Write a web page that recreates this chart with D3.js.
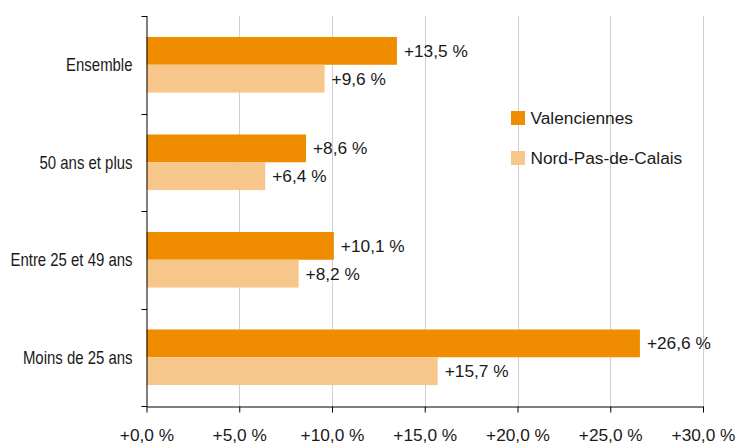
<!DOCTYPE html>
<html>
<head>
<meta charset="utf-8">
<title>Evolution</title>
<style>
  body {margin: 0; background: #fff;}
  text {font-family: "Liberation Sans", Arial, sans-serif; fill: #1a1a1a;}
  .grid line {stroke: #d0d0d0; stroke-width: 1px;}
  .axis path, .axis line {stroke: #000; stroke-width: 1px;}
</style>
</head>
<body>
<script src="https://d3js.org/d3.v7.min.js"></script>
<script>
var categories = ["Ensemble", "50 ans et plus", "Entre 25 et 49 ans", "Moins de 25 ans"];
var seriesNames = ["Valenciennes", "Nord-Pas-de-Calais"];
var valenciennes = [13.5, 8.6, 10.1, 26.6];
var nordPasDeCalais = [9.6, 6.4, 8.2, 15.7];
var xTicks = [0, 5, 10, 15, 20, 25, 30];
var colors = ["#f08c00", "#f6c68a"];

var W = 737, H = 448;
var mLeft = 146.5, mRight = 703, mTop = 16, mBottom = 406;

var svg = d3.select("body").append("svg").attr("width", W).attr("height", H);

var x = d3.scaleLinear().domain([0, 30]).range([mLeft, mRight]);
var y = d3.scaleBand().domain(categories).range([mTop, mBottom]).paddingInner(0.43).paddingOuter(0.215);
var ySub = d3.scaleBand().domain(seriesNames).range([0, y.bandwidth()]);

var fmt = function(v) { return "+" + d3.format(".1f")(v).replace(".", ",") + " %"; };

// grid
svg.append("g").attr("class", "grid")
  .selectAll("line").data(xTicks.slice(1)).enter().append("line")
  .attr("x1", function(d) { return Math.round(x(d)) + 0.5; })
  .attr("x2", function(d) { return Math.round(x(d)) + 0.5; })
  .attr("y1", mTop).attr("y2", mBottom);

// bars
var rows = categories.map(function(c, i) {
  return [{cat: c, s: seriesNames[0], v: valenciennes[i], k: 0},
          {cat: c, s: seriesNames[1], v: nordPasDeCalais[i], k: 1}];
});
var g = svg.selectAll("g.row").data(rows).enter().append("g")
  .attr("class", "row")
  .attr("transform", function(d) { return "translate(0," + y(d[0].cat) + ")"; });

g.selectAll("rect").data(function(d) { return d; }).enter().append("rect")
  .attr("x", x(0))
  .attr("y", function(d) { return ySub(d.s); })
  .attr("width", function(d) { return x(d.v) - x(0); })
  .attr("height", ySub.bandwidth())
  .attr("fill", function(d) { return colors[d.k]; });

g.selectAll("text").data(function(d) { return d; }).enter().append("text")
  .attr("x", function(d) { return x(d.v) + 7; })
  .attr("y", function(d) { return ySub(d.s) + ySub.bandwidth() / 2; })
  .attr("dy", "0.35em")
  .attr("font-size", "17.3px")
  .text(function(d) { return fmt(d.v); });

// x axis
var xAxis = svg.append("g").attr("class", "axis")
  .attr("transform", "translate(0," + (mBottom + 0.5) + ")")
  .call(d3.axisBottom(x).tickValues(xTicks).tickSize(6).tickSizeOuter(0).tickPadding(16).tickFormat(fmt));
xAxis.selectAll("text").attr("font-size", "17.3px").attr("font-family", "Liberation Sans, Arial, sans-serif").attr("fill", "#1a1a1a");

// y axis: ticks at band boundaries
var yAxisG = svg.append("g").attr("class", "axis");
yAxisG.append("line").attr("x1", mLeft + 0.5).attr("x2", mLeft + 0.5).attr("y1", mTop).attr("y2", mBottom + 0.5);
var bounds = categories.map(function(c) { return y(c) - y.step() * y.paddingInner() / 2; }).concat([mBottom]);
bounds[0] = mTop;
yAxisG.selectAll("line.tk").data(bounds).enter().append("line").attr("class", "tk")
  .attr("x1", mLeft - 5).attr("x2", mLeft + 0.5)
  .attr("y1", function(d) { return Math.round(d) + 0.5; })
  .attr("y2", function(d) { return Math.round(d) + 0.5; });
yAxisG.selectAll("text").data(categories).enter().append("text")
  .attr("transform", function(d) { return "translate(" + (mLeft - 14) + "," + (y(d) + y.bandwidth() / 2) + ") scale(0.83,1)"; })
  .attr("dy", "0.35em")
  .attr("text-anchor", "end")
  .attr("font-size", "18px")
  .text(function(d) { return d; });

// legend
var leg = svg.append("g").attr("transform", "translate(511,111)");
var li = leg.selectAll("g").data(seriesNames).enter().append("g")
  .attr("transform", function(d, i) { return "translate(0," + i * 40 + ")"; });
li.append("rect").attr("width", 14).attr("height", 14).attr("fill", function(d, i) { return colors[i]; });
li.append("text").attr("x", 19.5).attr("y", 7).attr("dy", "0.35em").attr("font-size", "17.3px").text(function(d) { return d; });
</script>
</body>
</html>
